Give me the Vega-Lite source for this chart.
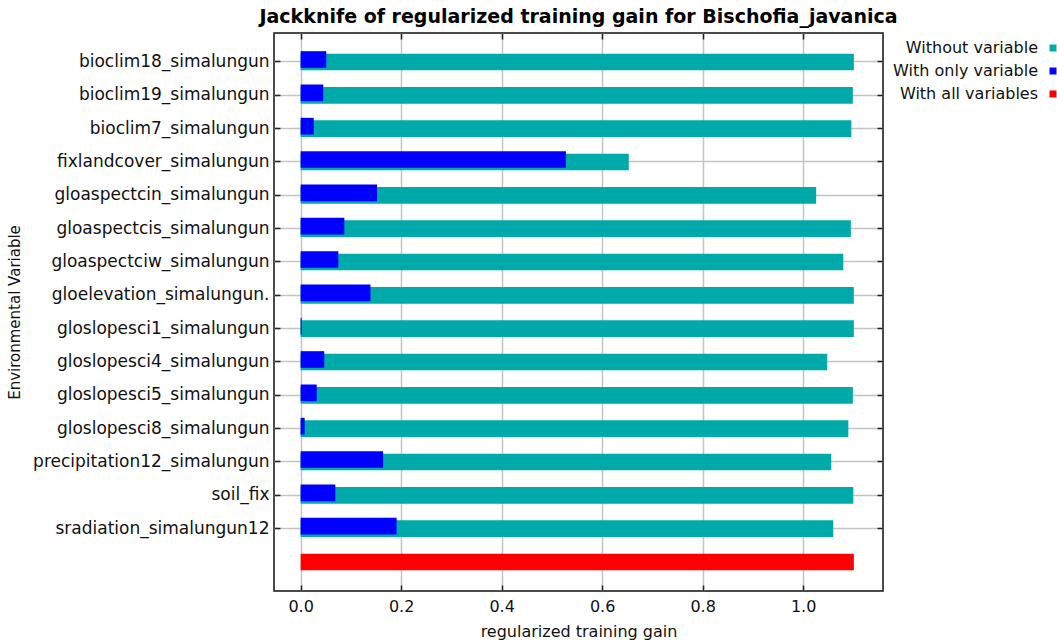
{
  "$schema": "https://vega.github.io/schema/vega-lite/v6.json",
  "width": 609,
  "height": 558,
  "padding": {"left": 7, "top": 8, "right": 3, "bottom": 5},
  "background": "white",
  "title": {
    "text": "Jackknife of regularized training gain for Bischofia_javanica",
    "font": "DejaVu Sans",
    "fontSize": 19,
    "fontWeight": "bold",
    "color": "#000",
    "anchor": "middle",
    "offset": 5
  },
  "config": {
    "font": "DejaVu Sans",
    "view": {"stroke": "#111", "strokeWidth": 1.5},
    "axis": {
      "domain": false,
      "tickColor": "#222",
      "tickWidth": 1.5,
      "tickSize": -6,
      "gridColor": "#c4c4c4",
      "gridWidth": 1.5,
      "labelColor": "#111",
      "titleColor": "#111",
      "titleFontWeight": "normal",
      "labelLimit": 300
    },
    "legend": {
      "labelFont": "DejaVu Sans",
      "labelFontSize": 16,
      "labelColor": "#111",
      "labelLimit": 300
    }
  },
  "datasets": {
    "gains": [
      {"variable": "bioclim18_simalungun", "type": "Without variable", "gain": 1.101},
      {"variable": "bioclim19_simalungun", "type": "Without variable", "gain": 1.099},
      {"variable": "bioclim7_simalungun", "type": "Without variable", "gain": 1.096},
      {"variable": "fixlandcover_simalungun", "type": "Without variable", "gain": 0.653},
      {"variable": "gloaspectcin_simalungun", "type": "Without variable", "gain": 1.026},
      {"variable": "gloaspectcis_simalungun", "type": "Without variable", "gain": 1.095},
      {"variable": "gloaspectciw_simalungun", "type": "Without variable", "gain": 1.080},
      {"variable": "gloelevation_simalungun.", "type": "Without variable", "gain": 1.101},
      {"variable": "gloslopesci1_simalungun", "type": "Without variable", "gain": 1.101},
      {"variable": "gloslopesci4_simalungun", "type": "Without variable", "gain": 1.048},
      {"variable": "gloslopesci5_simalungun", "type": "Without variable", "gain": 1.099},
      {"variable": "gloslopesci8_simalungun", "type": "Without variable", "gain": 1.090},
      {"variable": "precipitation12_simalungun", "type": "Without variable", "gain": 1.056},
      {"variable": "soil_fix", "type": "Without variable", "gain": 1.100},
      {"variable": "sradiation_simalungun12", "type": "Without variable", "gain": 1.060},
      {"variable": "bioclim18_simalungun", "type": "With only variable", "gain": 0.051},
      {"variable": "bioclim19_simalungun", "type": "With only variable", "gain": 0.045},
      {"variable": "bioclim7_simalungun", "type": "With only variable", "gain": 0.026},
      {"variable": "fixlandcover_simalungun", "type": "With only variable", "gain": 0.528},
      {"variable": "gloaspectcin_simalungun", "type": "With only variable", "gain": 0.152},
      {"variable": "gloaspectcis_simalungun", "type": "With only variable", "gain": 0.087},
      {"variable": "gloaspectciw_simalungun", "type": "With only variable", "gain": 0.075},
      {"variable": "gloelevation_simalungun.", "type": "With only variable", "gain": 0.139},
      {"variable": "gloslopesci1_simalungun", "type": "With only variable", "gain": 0.002},
      {"variable": "gloslopesci4_simalungun", "type": "With only variable", "gain": 0.047},
      {"variable": "gloslopesci5_simalungun", "type": "With only variable", "gain": 0.032},
      {"variable": "gloslopesci8_simalungun", "type": "With only variable", "gain": 0.008},
      {"variable": "precipitation12_simalungun", "type": "With only variable", "gain": 0.164},
      {"variable": "soil_fix", "type": "With only variable", "gain": 0.069},
      {"variable": "sradiation_simalungun12", "type": "With only variable", "gain": 0.191},
      {"variable": "ALL", "type": "With all variables", "gain": 1.101}
    ]
  },
  "data": {"name": "gains"},
  "layer": [
    {
      "transform": [{"filter": "datum.type !== 'With only variable'"}],
      "mark": {"type": "bar"},
      "encoding": {
        "y": {
          "field": "variable",
          "type": "nominal",
          "scale": {
            "domain": ["bioclim18_simalungun", "bioclim19_simalungun", "bioclim7_simalungun", "fixlandcover_simalungun", "gloaspectcin_simalungun", "gloaspectcis_simalungun", "gloaspectciw_simalungun", "gloelevation_simalungun.", "gloslopesci1_simalungun", "gloslopesci4_simalungun", "gloslopesci5_simalungun", "gloslopesci8_simalungun", "precipitation12_simalungun", "soil_fix", "sradiation_simalungun12", "ALL"],
            "paddingInner": 0.5,
            "paddingOuter": 0.62
          },
          "axis": {
            "orient": "left",
            "values": ["bioclim18_simalungun", "bioclim19_simalungun", "bioclim7_simalungun", "fixlandcover_simalungun", "gloaspectcin_simalungun", "gloaspectcis_simalungun", "gloaspectciw_simalungun", "gloelevation_simalungun.", "gloslopesci1_simalungun", "gloslopesci4_simalungun", "gloslopesci5_simalungun", "gloslopesci8_simalungun", "precipitation12_simalungun", "soil_fix", "sradiation_simalungun12"],
            "grid": true,
            "labelFontSize": 17,
            "labelPadding": 11,
            "title": "Environmental Variable",
            "titleFontSize": 15,
            "titlePadding": 52
          }
        },
        "x": {
          "field": "gain",
          "type": "quantitative",
          "scale": {"domain": [-0.053, 1.159], "nice": false, "zero": false},
          "axis": {
            "orient": "bottom",
            "values": [0, 0.2, 0.4, 0.6, 0.8, 1.0],
            "format": ".1f",
            "grid": true,
            "labelFontSize": 16,
            "labelPadding": 13,
            "title": "regularized training gain",
            "titleFontSize": 16,
            "titlePadding": 9
          }
        },
        "color": {
          "field": "type",
          "type": "nominal",
          "scale": {
            "domain": ["Without variable", "With only variable", "With all variables"],
            "range": ["#00aaaa", "#0000ff", "#ff0000"]
          },
          "legend": {
            "orient": "none",
            "legendX": 771,
            "legendY": 7,
            "title": null,
            "symbolType": "square",
            "symbolSize": 49,
            "symbolStrokeWidth": 0,
            "labelAlign": "right",
            "labelOffset": -23,
            "rowPadding": 7,
            "padding": 0
          }
        }
      }
    },
    {
      "transform": [{"filter": "datum.type === 'With only variable'"}],
      "mark": {"type": "bar"},
      "encoding": {
        "y": {
          "field": "variable",
          "type": "nominal",
          "axis": {
            "orient": "right",
            "values": ["bioclim18_simalungun", "bioclim19_simalungun", "bioclim7_simalungun", "fixlandcover_simalungun", "gloaspectcin_simalungun", "gloaspectcis_simalungun", "gloaspectciw_simalungun", "gloelevation_simalungun.", "gloslopesci1_simalungun", "gloslopesci4_simalungun", "gloslopesci5_simalungun", "gloslopesci8_simalungun", "precipitation12_simalungun", "soil_fix", "sradiation_simalungun12"],
            "labels": false,
            "grid": false,
            "title": null
          }
        },
        "yOffset": {"value": -2.5},
        "x": {
          "field": "gain",
          "type": "quantitative",
          "axis": {
            "orient": "top",
            "values": [0, 0.2, 0.4, 0.6, 0.8, 1.0],
            "labels": false,
            "grid": false,
            "title": null
          }
        },
        "color": {"field": "type", "type": "nominal"}
      }
    }
  ],
  "resolve": {"axis": {"x": "independent", "y": "independent"}}
}
